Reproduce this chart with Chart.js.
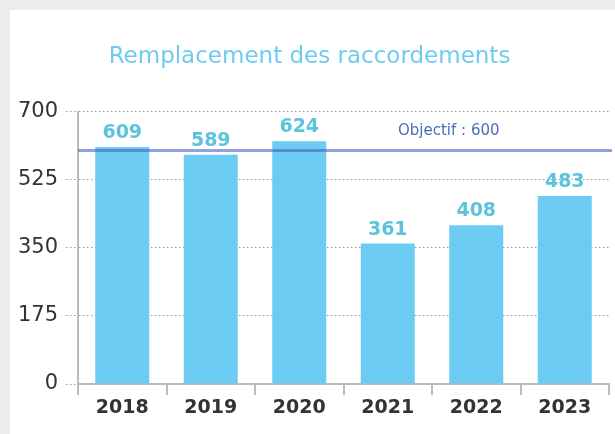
<!DOCTYPE html>
<html>
<head>
<meta charset="utf-8">
<script src="https://cdn.jsdelivr.net/npm/chart.js@4.4.1/dist/chart.umd.min.js"></script>
<style>
  html, body { margin: 0; padding: 0; background: #ececec; }
  #panel { position: absolute; left: 10px; top: 10px; width: 605px; height: 424px; background: #fff; }
  canvas { display: block; }
</style>
</head>
<body>
<div id="panel"><canvas id="chart" width="605" height="424"></canvas></div>
<script>
  var annees = ["2018", "2019", "2020", "2021", "2022", "2023"];
  var raccordements = [609, 589, 624, 361, 408, 483];
  var ticksY = [0, 175, 350, 525, 700];
  var objectif = 600;

  // valeurs au-dessus des barres
  var valeursPlugin = {
    id: "valeurs",
    afterDatasetsDraw: function (chart) {
      var ctx = chart.ctx;
      var meta = chart.getDatasetMeta(0);
      ctx.save();
      ctx.font = "bold 19px 'DejaVu Sans'";
      ctx.fillStyle = "#5bc4dc";
      ctx.textAlign = "center";
      ctx.textBaseline = "alphabetic";
      meta.data.forEach(function (bar, i) {
        ctx.fillText(String(raccordements[i]), bar.x, bar.y - 9);
      });
      ctx.restore();
    }
  };

  // ligne objectif
  var objectifPlugin = {
    id: "objectif",
    afterDatasetsDraw: function (chart) {
      var ctx = chart.ctx;
      var area = chart.chartArea;
      var y = chart.scales.y.getPixelForValue(objectif);
      ctx.save();
      ctx.strokeStyle = "rgba(70,100,190,0.6)";
      ctx.lineWidth = 3;
      ctx.beginPath();
      ctx.moveTo(area.left, y);
      ctx.lineTo(area.right + 3, y);
      ctx.stroke();
      ctx.font = "15px 'DejaVu Sans'";
      ctx.fillStyle = "#4a6cb8";
      ctx.textAlign = "left";
      ctx.textBaseline = "middle";
      ctx.fillText("Objectif : " + objectif, 388, y - 19);
      ctx.restore();
    }
  };

  new Chart(document.getElementById("chart"), {
    type: "bar",
    data: {
      labels: annees,
      datasets: [
        {
          data: raccordements,
          backgroundColor: "#6bcbf2",
          borderWidth: 0,
          barPercentage: 0.61,
          categoryPercentage: 1,
        },
      ],
    },
    options: {
      responsive: false,
      animation: false,
      layout: { padding: { left: 0, right: 6, top: 0, bottom: 0 } },
      plugins: {
        legend: { display: false },
        tooltip: { enabled: false },
        title: {
          display: true,
          text: "Remplacement des raccordements",
          color: "#6fcbf0",
          font: { family: "'DejaVu Sans'", size: 23, weight: "normal", lineHeight: 1.2 },
          padding: { top: 33, bottom: 41 },
        },
      },
      scales: {
        x: {
          grid: {
            offset: true,
            drawOnChartArea: false,
            drawTicks: true,
            tickLength: 11,
            color: "#bbbbbb",
            lineWidth: 2,
          },
          border: { display: true, color: "#bbbbbb", width: 2 },
          ticks: {
            color: "#333333",
            padding: 2,
            font: { family: "'DejaVu Sans'", size: 19, weight: "bold" },
          },
          afterFit: function (scale) {
            scale.height = 50;
          },
        },
        y: {
          min: 0,
          max: 700,
          afterBuildTicks: function (scale) {
            scale.ticks = ticksY.map(function (v) {
              return { value: v };
            });
          },
          grid: {
            color: "#999999",
            lineWidth: 1,
            tickLength: 12,
            tickBorderDash: [1.5, 2.5],
          },
          border: { display: true, color: "#bbbbbb", width: 2, dash: [1.5, 2.5] },
          ticks: {
            color: "#333333",
            padding: 8,
            font: { family: "'DejaVu Sans'", size: 21, weight: "normal" },
          },
          afterFit: function (scale) {
            scale.width = 68;
          },
        },
      },
    },
    plugins: [valeursPlugin, objectifPlugin],
  });
</script>
</body>
</html>
